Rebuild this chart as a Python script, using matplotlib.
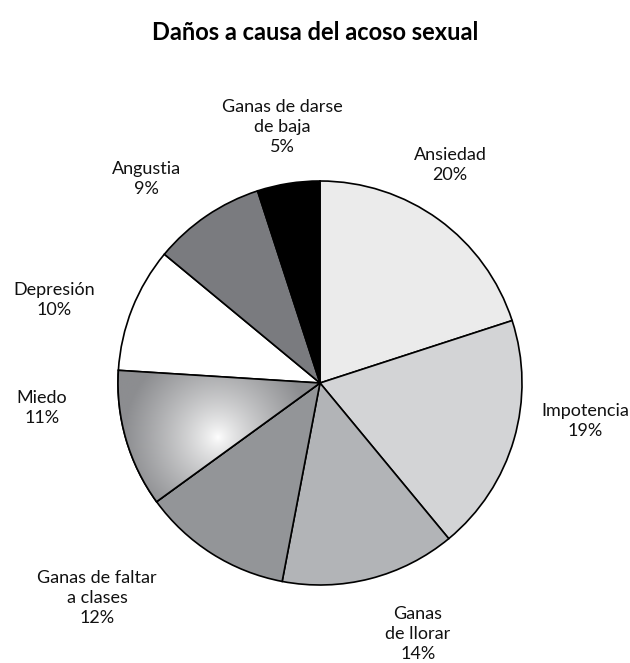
import numpy as np
import matplotlib
matplotlib.use("Agg")
import matplotlib.pyplot as plt
from matplotlib.colors import LinearSegmentedColormap
from matplotlib.patches import Wedge

plt.rcParams['font.family'] = ['Lato', 'DejaVu Sans']

title = "Daños a causa del acoso sexual"
categories = ["Ansiedad", "Impotencia", "Ganas\nde llorar", "Ganas de faltar\na clases",
              "Miedo", "Depresión", "Angustia", "Ganas de darse\nde baja"]
values = [20, 19, 14, 12, 11, 10, 9, 5]
colors = ["#ebebeb", "#d3d4d6", "#b2b4b7", "#939598", "#8c8d90", "#ffffff", "#7a7b7f", "#000000"]

# label anchor positions in pixel space (x, y from top)
label_pos = [(450, 165), (585, 421), (418, 634), (97, 598),
             (42, 408), (54, 300), (146, 179), (282, 127)]

W, H = 630, 663
fig = plt.figure(figsize=(W / 100, H / 100), dpi=100)
ax = fig.add_axes([0, 0, 1, 1])

cx, cy, r = 320, H - 383, 202
wedges, _ = ax.pie(values, colors=colors, startangle=90, counterclock=False,
                   center=(cx, cy), radius=r, frame=False,
                   wedgeprops=dict(edgecolor='black', linewidth=1.2))

# radial shading on the "Miedo" slice
miedo = wedges[categories.index("Miedo")]
gx, gy = 218, H - 437
x0, x1, y0, y1 = cx - r - 5, cx + 5, cy - r - 5, cy + 40
xs = np.linspace(x0, x1, 300)
ys = np.linspace(y0, y1, 300)
X, Y = np.meshgrid(xs, ys)
d = np.clip(np.hypot(X - gx, Y - gy) / 95.0, 0, 1) ** 0.8
cmap = LinearSegmentedColormap.from_list("shade", ["#ffffff", "#8c8d90"])
im = ax.imshow(d, cmap=cmap, vmin=0, vmax=1, origin='lower',
               extent=(x0, x1, y0, y1), zorder=miedo.get_zorder() + 0.1,
               interpolation='bilinear')
im.set_clip_path(miedo)
# outline redrawn on top of the shading
ax.add_patch(Wedge((cx, cy), r, miedo.theta1, miedo.theta2, fill=False,
                   edgecolor='black', linewidth=1.2, zorder=5))

for name, v, (lx, ly) in zip(categories, values, label_pos):
    ax.text(lx, H - ly, f"{name}\n{v}%", ha='center', va='center', fontsize=13,
            linespacing=1.3, color='#111111')

ax.text(W / 2, H - 33, title, ha='center', va='center', fontsize=17, fontweight='bold')

ax.set_xlim(0, W)
ax.set_ylim(0, H)
ax.set_aspect('equal')
ax.axis('off')

fig.savefig("out.png", dpi=100)
